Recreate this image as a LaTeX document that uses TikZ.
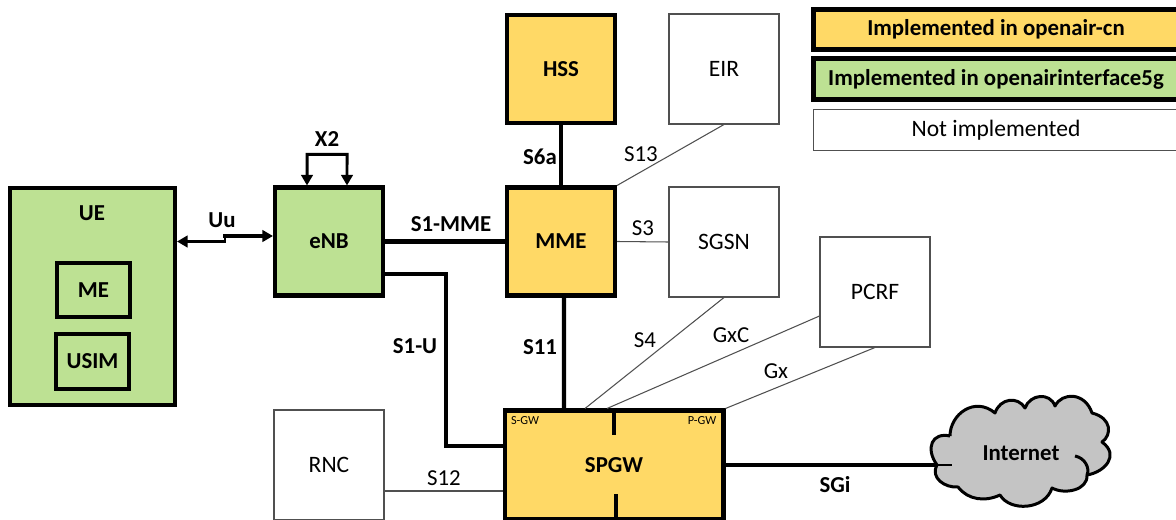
\documentclass[tikz,border=0pt]{standalone}
\usepackage{xcolor}
\usepackage{fontspec}
\setmainfont{Carlito}
\usetikzlibrary{arrows.meta,calc}

\definecolor{cngold}{HTML}{FFD966}
\definecolor{ranleaf}{HTML}{BDE193}
\definecolor{cloudgray}{HTML}{C4C4C4}
\definecolor{thingray}{HTML}{505050}

\tikzset{
  heavybox/.style={draw=black, line width=2.3pt, font=\fontsize{13}{16}\selectfont\bfseries, inner sep=0pt},
  corebox/.style={heavybox, fill=cngold},
  ranbox/.style={heavybox, fill=ranleaf},
  legendline/.style={line width=3pt},
  plainbox/.style={draw=thingray, line width=0.6pt, fill=white, font=\fontsize{13.4}{16}\selectfont, inner sep=0pt},
  heavylink/.style={line width=2.3pt},
  thinlink/.style={draw=thingray, line width=0.6pt},
  ifacebold/.style={font=\fontsize{13}{16}\selectfont\bfseries, inner sep=0pt},
  ifacethin/.style={font=\fontsize{13}{16}\selectfont, inner sep=0pt},
  gwtag/.style={font=\fontsize{7}{8}\selectfont, inner sep=0pt},
  headtip/.style={{Triangle[length=6pt,width=6.5pt]}-},
  tailtip/.style={-{Triangle[length=6pt,width=6.5pt]}}
}

\begin{document}
\begin{tikzpicture}[x=0.02cm, y=-0.02cm]
\useasboundingbox (0,0) rectangle (1176,520);

% Internet cloud
\coordinate (cloudleft) at (937,465);
\draw[fill=cloudgray, line width=1.7pt, line join=round]
  (950,436) .. controls (950,414) and (975,396) .. (995,413)
  .. controls (1000,398) and (1018,396) .. (1025,408)
  .. controls (1030,394) and (1050,392) .. (1055,406)
  .. controls (1062,392) and (1085,392) .. (1092,413)
  .. controls (1112,418) and (1112,435) .. (1102,442)
  .. controls (1120,455) and (1105,472) .. (1087,475)
  .. controls (1088,490) and (1065,495) .. (1052,488)
  .. controls (1045,510) and (1010,512) .. (1000,495)
  .. controls (985,502) and (968,500) .. (958,487)
  .. controls (945,488) and (930,478) .. (cloudleft)
  .. controls (925,448) and (932,432) .. (950,436);
\draw[line width=1.7pt] (1075,456) .. controls (1085,458) and (1090,468) .. (1087,475);
\draw[line width=1.7pt] (cloudleft) -- (952,465);
\node[ifacebold] (internet) at (1021,453) {Internet};

% UE with its two parts
\node[ranbox, minimum width=3.3cm, minimum height=4.34cm] (ue) at (92.5,296.5) {};
\node[ifacebold] (uelabel) at (92,213) {UE};
\node[ranbox, minimum width=1.46cm, minimum height=1.08cm] (me) at (93.5,290) {ME};
\node[ranbox, minimum width=1.46cm, minimum height=1.1cm] (usim) at (92.5,361.5) {USIM};

% Network elements
\node[ranbox, minimum width=2.16cm, minimum height=2.16cm] (enb) at (329,241.5) {eNB};
\node[corebox, minimum width=2.16cm, minimum height=2.16cm] (mme) at (561,241.5) {MME};
\node[corebox, minimum width=2.16cm, minimum height=2.16cm] (hss) at (561,69) {HSS};
\node[corebox, minimum width=4.38cm, minimum height=2.18cm] (spgw) at (614,465) {SPGW};
\node[plainbox, minimum width=2.2cm, minimum height=2.2cm] (eir) at (724,69) {EIR};
\node[plainbox, minimum width=2.2cm, minimum height=2.2cm] (sgsn) at (724,242) {SGSN};
\node[plainbox, minimum width=2.2cm, minimum height=2.2cm] (pcrf) at (875,292) {PCRF};
\node[plainbox, minimum width=2.2cm, minimum height=2.2cm] (rnc) at (329,465) {RNC};

% Legend
\node[corebox, legendline, minimum width=7.3cm, minimum height=0.8cm] (legendcn) at (996,29.5) {Implemented in openair-cn};
\node[ranbox, legendline, minimum width=7.3cm, minimum height=0.82cm] (legendran) at (996,79) {Implemented in openairinterface5g};
\node[plainbox, minimum width=7.32cm, minimum height=0.82cm] (legendnone) at (996,130) {Not implemented};

% S-GW / P-GW split
\coordinate (splittop) at (614,435);
\coordinate (splitbot) at (616,494);
\draw[heavylink] (spgw.north -| splittop) -- (splittop);
\draw[heavylink] (spgw.south -| splitbot) -- (splitbot);
\node[gwtag] (sgwtag) at (525,421) {S-GW};
\node[gwtag] (pgwtag) at (702,421) {P-GW};

% Heavy interfaces
\coordinate (uustep) at (225,238);
\draw[line width=1.7pt, headtip] ([yshift=1.1cm]ue.east) -| (uustep);
\draw[heavylink, tailtip] (uustep) |- ([yshift=0.11cm]enb.west);
\draw[line width=1.7pt, {Triangle[length=6pt,width=6.5pt]}-{Triangle[length=6pt,width=6.5pt]}]
  ([xshift=-0.44cm]enb.north) -- ++(0,-31) -- ++(40,0) -- ([xshift=0.36cm]enb.north);
\draw[heavylink] (enb.east) -- (mme.west);
\draw[heavylink] ([yshift=-0.65cm]enb.east) -- ++(61,0) |- ([yshift=0.38cm]spgw.west);
\draw[heavylink] (hss.south) -- (mme.north);
\draw[heavylink] ([xshift=0.06cm]mme.south) -- ([xshift=-1cm]spgw.north);
\draw[heavylink] (spgw.east) -- (cloudleft);

% Thin interfaces
\draw[thinlink] (eir.south) -- (mme.north east);
\draw[thinlink] (mme.east) -- (sgsn.west);
\draw[thinlink] (sgsn.south) -- ([xshift=-0.58cm]spgw.north);
\draw[thinlink] ([yshift=-0.48cm]pcrf.west) -- ([xshift=-0.14cm]spgw.north);
\draw[thinlink] (pcrf.south) -- (spgw.north east);
\draw[thinlink] ([yshift=-0.52cm]rnc.east) -- ([yshift=-0.52cm]spgw.west);

% Interface names
\node[ifacebold] (x2label) at (327,139) {X2};
\node[ifacebold] (uulabel) at (222,220) {Uu};
\node[ifacebold] (s6alabel) at (540,157) {S6a};
\node[ifacebold] (s1mmelabel) at (451,224) {S1-MME};
\node[ifacebold] (s1ulabel) at (415,346) {S1-U};
\node[ifacebold] (s11label) at (540,347) {S11};
\node[ifacebold] (sgilabel) at (835,485) {SGi};
\node[ifacethin] (s13label) at (641,154) {S13};
\node[ifacethin] (s3label) at (643,228) {S3};
\node[ifacethin] (s4label) at (645,340) {S4};
\node[ifacethin] (gxclabel) at (731,335) {GxC};
\node[ifacethin] (gxlabel) at (776,371) {Gx};
\node[ifacethin] (s12label) at (444,478) {S12};
\end{tikzpicture}
\end{document}
